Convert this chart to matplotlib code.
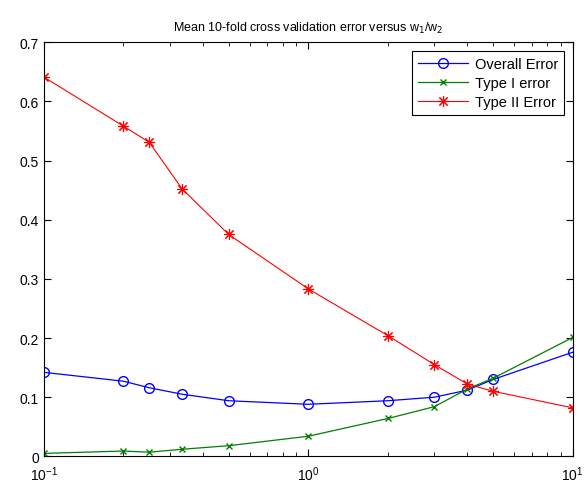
import matplotlib
matplotlib.use('Agg')
import matplotlib.pyplot as plt

plt.rcParams['font.family'] = ['Liberation Sans', 'DejaVu Sans']

ratio = [0.1, 0.2, 0.25, 1/3, 0.5, 1, 2, 3, 4, 5, 10]
overall = [0.142, 0.127, 0.116, 0.105, 0.094, 0.088, 0.094, 0.100, 0.112, 0.130, 0.176]
type1 = [0.005, 0.009, 0.007, 0.012, 0.018, 0.034, 0.064, 0.084, 0.114, 0.132, 0.201]
type2 = [0.641, 0.558, 0.531, 0.452, 0.375, 0.283, 0.204, 0.155, 0.122, 0.110, 0.082]

fig = plt.figure(figsize=(5.85, 4.85), dpi=100)
ax = fig.add_axes([0.075, 0.057, 0.904, 0.854])

# matlab style asterisk = 8 spoke marker
ax.semilogx(ratio, overall, '-o', color='blue', mfc='none', ms=7, lw=0.9, label='Overall Error')
ax.semilogx(ratio, type1, '-x', color='green', ms=4, lw=0.9, label='Type I error')
ax.semilogx(ratio, type2, '-', marker=(8, 2, 0), color='red', ms=8, mew=0.8, lw=0.8, label='Type II Error')

ax.set_xlim(0.1, 10)
ax.set_ylim(0, 0.7)
ax.set_yticks([0, 0.1, 0.2, 0.3, 0.4, 0.5, 0.6, 0.7])
ax.set_yticklabels(['0', '0.1', '0.2', '0.3', '0.4', '0.5', '0.6', '0.7'])
ax.tick_params(which='both', direction='in', top=True, right=True, labelsize=10)
ax.tick_params(which='major', length=5)
ax.tick_params(which='minor', length=3)
ax.tick_params(axis='x', which='major', pad=6, labelsize=10)
ax.set_title('Mean 10-fold cross validation error versus w$_1$/w$_2$', fontsize=9, pad=8)

leg = ax.legend(loc='upper right', fancybox=False, edgecolor='black', fontsize=10.5,
                framealpha=1, borderaxespad=0.6, handlelength=3.4, labelspacing=0.35,
                borderpad=0.4, handletextpad=0.5)
leg.get_frame().set_linewidth(0.8)

fig.savefig('out.png')
